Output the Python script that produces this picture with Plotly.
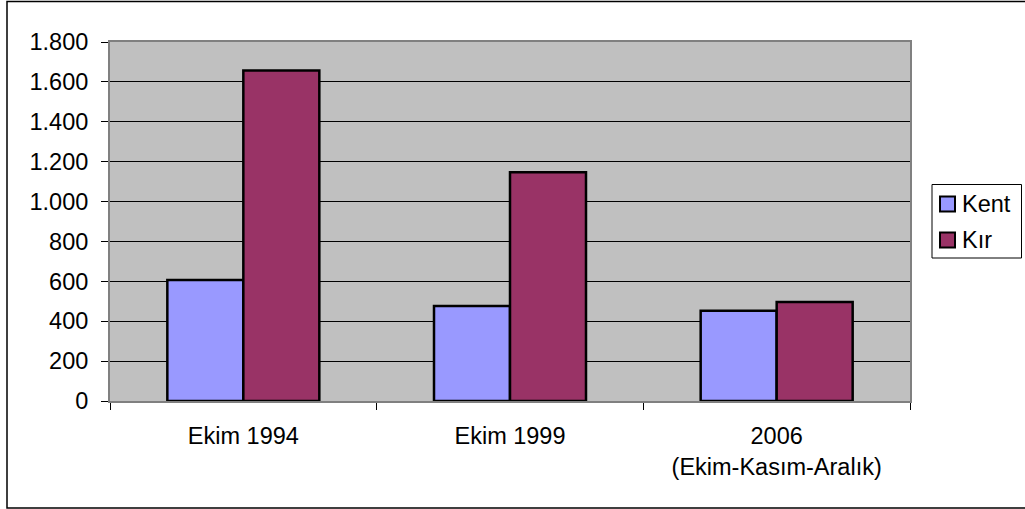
import plotly.graph_objects as go

categories = ["Ekim 1994", "Ekim 1999", "2006<br>(Ekim-Kasım-Aralık)"]
kent = [607, 476, 452]
kir = [1657, 1147, 497]
series_names = ["Kent", "Kır"]
series_colors = ["#9999FF", "#993366"]
y_ticks = [0, 200, 400, 600, 800, 1000, 1200, 1400, 1600, 1800]

fig = go.Figure()
for name, vals, col in zip(series_names, [kent, kir], series_colors):
    fig.add_trace(go.Bar(name=name, x=categories, y=vals, showlegend=False,
                         marker=dict(color=col, line=dict(color="black", width=2.5))))

W, H = 1025, 509
L, R, T, B = 110, 115, 42, 108
pw, ph = W - L - R, H - T - B
FS = 23.5


def px_x(p):
    return (p - L) / pw


def px_y(p):
    return (H - B - p) / ph


shapes = [
    dict(type="rect", xref="paper", yref="paper",
         x0=px_x(7), x1=px_x(1040), y0=px_y(508), y1=px_y(1.5),
         line=dict(color="black", width=1.5), fillcolor="rgba(0,0,0,0)", layer="below"),
    dict(type="rect", xref="paper", yref="paper",
         x0=px_x(932), x1=px_x(1021.5), y0=px_y(258), y1=px_y(184.5),
         line=dict(color="black", width=1), fillcolor="white", layer="above"),
]
annotations = []
legend_rows = [204, 240]
for name, col, cy in zip(series_names, series_colors, legend_rows):
    shapes.append(dict(type="rect", xref="paper", yref="paper",
                       x0=px_x(940), x1=px_x(955), y0=px_y(cy + 7.5), y1=px_y(cy - 7.5),
                       line=dict(color="black", width=2), fillcolor=col, layer="above"))
    annotations.append(dict(text=name, xref="paper", yref="paper",
                            x=px_x(960), y=px_y(cy), xanchor="left", yanchor="middle",
                            showarrow=False, font=dict(size=FS, color="black")))

fig.update_layout(
    width=W, height=H,
    margin=dict(l=L, r=R, t=T, b=B),
    paper_bgcolor="white",
    plot_bgcolor="#C0C0C0",
    barmode="group",
    bargap=0.43,
    bargroupgap=0,
    separators=",.",
    font=dict(family="Liberation Sans, Arial, sans-serif", size=FS, color="black"),
    showlegend=False,
    shapes=shapes,
    annotations=annotations,
)
fig.update_yaxes(range=[0, 1800], tickvals=y_ticks, separatethousands=True,
                 tickformat=",d",
                 showgrid=True, gridcolor="black", gridwidth=1,
                 ticks="outside", ticklen=7, tickcolor="black",
                 showline=True, linecolor="#808080", linewidth=2, mirror=True,
                 zeroline=False, ticklabelstandoff=8)
fig.update_xaxes(tickson="boundaries", ticks="outside", ticklen=7, tickcolor="black",
                 showline=True, linecolor="#808080", linewidth=2, mirror=True,
                 ticklabelstandoff=13)

fig.write_html("out.html", config={"displayModeBar": False},
               post_script="document.body.style.margin='0';")
